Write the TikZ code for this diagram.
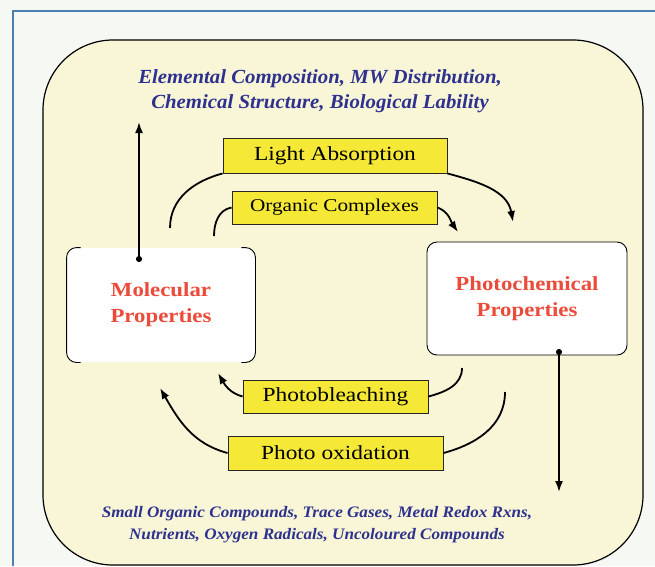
\documentclass[tikz,border=0pt]{standalone}
\usepackage{fontspec}
\setmainfont{Liberation Serif}
\usetikzlibrary{arrows.meta,positioning}
\definecolor{frameblue}{HTML}{4A7FB0}
\definecolor{pagegrey}{HTML}{F6F8F3}
\definecolor{panelcream}{HTML}{F8F6D7}
\definecolor{procyellow}{HTML}{F6E836}
\definecolor{propred}{HTML}{EA4B3A}
\definecolor{noteblue}{HTML}{2E318E}

\begin{document}
\begin{tikzpicture}[
    x=1pt, y=-1pt,
    >={Latex[length=11pt,width=8pt]},
    prop_box/.style={line width=0.9pt, rounded corners=10pt, fill=white,
        text=propred, align=center, font=\bfseries\fontsize{20}{26}\selectfont\addfontfeature{FakeStretch=1.14}},
    proc_box/.style={draw=black!85, line width=0.9pt, fill=procyellow, inner sep=0pt,
        font=\fontsize{20}{22}\selectfont\addfontfeature{FakeStretch=1.17}},
    flow_edge/.style={->, line width=1.8pt},
    link_edge/.style={{Circle[length=6pt]}->, line width=1.8pt},
    note_text/.style={text=noteblue, align=center, font=\bfseries\itshape\fontsize{20}{25}\selectfont\addfontfeature{FakeStretch=1.04}}
]

% --- FRAME ---
\fill[pagegrey] (0,0) rectangle (655,566);
\useasboundingbox (0,0) rectangle (655,566);
\draw[frameblue, line width=1.2pt] (13,566) -- (13,11) -- (655,11);
\draw[fill=panelcream, line width=1.2pt, rounded corners=70pt] (43,40) rectangle (643,565);

% --- NODES ---

% Properties (left and right)
\node[prop_box, minimum width=188pt, minimum height=114pt] (mol) at (161,305) {Molecular\\Properties};
\node[prop_box, draw, minimum width=200pt, minimum height=113pt] (photo) at (527,298.5) {Photochemical\\Properties};

% Processes (yellow)
\node[proc_box, minimum width=224pt, minimum height=35pt] (absorb) at (335,155.5) {Light Absorption};
\node[proc_box, minimum width=205pt, minimum height=33pt,
      font=\fontsize{18}{20}\selectfont\addfontfeature{FakeStretch=1.18}] (complex) at (334.5,207.5) {Organic Complexes};
\node[proc_box, minimum width=185pt, minimum height=33pt] (bleach) at (335.5,396.5) {Photobleaching};
\node[proc_box, minimum width=215pt, minimum height=34pt] (oxid) at (335.5,453) {Photo oxidation};

% Notes
\node[note_text] (mol_note) at (320,91) {Elemental Composition, MW Distribution,\\Chemical Structure, Biological Lability};
\node[note_text, font=\bfseries\itshape\fontsize{16}{22}\selectfont\addfontfeature{FakeStretch=1.07}] (photo_note) at (317,525) {Small Organic Compounds, Trace Gases, Metal Redox Rxns,\\Nutrients, Oxygen Radicals, Uncoloured Compounds};

% Free ends of the arrows
\coordinate (mol_port) at (139,262);
\coordinate (mol_up) at (139,122);
\coordinate (photo_port) at (559,349);
\coordinate (photo_down) at (559,492);
\coordinate (absorb_tail) at (170,228);
\coordinate (absorb_head) at (513,222);
\coordinate (complex_tail) at (214,236);
\coordinate (complex_head) at (458,232);
\coordinate (bleach_tail) at (462,368);
\coordinate (bleach_head) at (218,373);
\coordinate (oxid_tail) at (505,392);
\coordinate (oxid_head) at (160,388);

% left box: only its rounded sides are drawn
\draw[line width=0.9pt, rounded corners=10pt]
    ([xshift=14pt]mol.north west) -- (mol.north west) -- (mol.south west) -- ([xshift=14pt]mol.south west);
\draw[line width=0.9pt, rounded corners=10pt]
    ([xshift=-14pt]mol.north east) -- (mol.north east) -- (mol.south east) -- ([xshift=-14pt]mol.south east);

% --- EDGES ---

% 1. Properties to their measures
\draw[link_edge] (mol_port) -- (mol_up);
\draw[link_edge] (photo_port) -- (photo_down);

% 2. Molecular to photochemical
\draw[line width=1.8pt] (absorb_tail) to[out=90, in=195] (absorb.south west);
\draw[flow_edge] (absorb.south east) to[out=-15, in=100] (absorb_head);
\draw[line width=1.8pt] (complex_tail) to[out=90, in=190] (complex.west);
\draw[flow_edge] (complex.east) to[out=-20, in=125] (complex_head);

% 3. Photochemical to molecular
\draw[line width=1.8pt] (bleach_tail) to[out=-90, in=15] (bleach.east);
\draw[flow_edge] (bleach.west) to[out=165, in=-60] (bleach_head);
\draw[line width=1.8pt] (oxid_tail) to[out=-90, in=15] (oxid.east);
\draw[flow_edge] (oxid.west) to[out=165, in=-60] (oxid_head);

\end{tikzpicture}
\end{document}
